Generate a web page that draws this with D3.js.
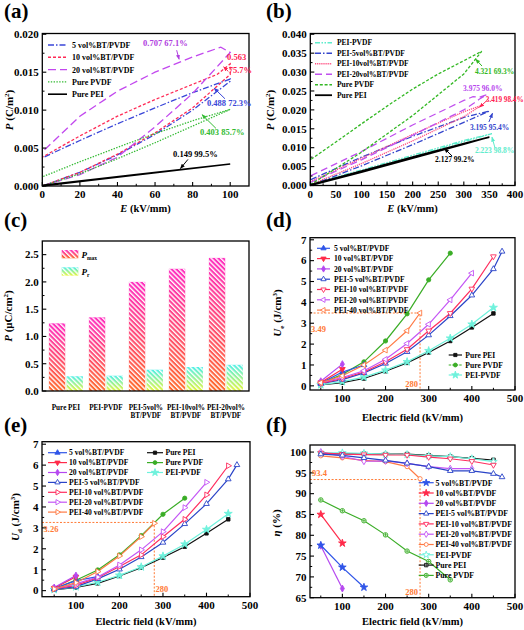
<!DOCTYPE html>
<html><head><meta charset="utf-8">
<script src="https://d3js.org/d3.v7.min.js"></script>
<style>
html,body{margin:0;padding:0;background:#fff;}
svg{display:block;}
</style></head>
<body>
<script>
// ================= DATA =================
// (a) unipolar P-E loops at 100 kV/mm (lower branch then upper branch); E kV/mm, P C/m2
const aE5  = [0,20,40,60,80,100,100,80,60,40,20,0];
const aP5  = [0,0.0018,0.0041,0.0068,0.0100,0.0138,0.0141,0.0123,0.0103,0.0082,0.0060,0.0037];
const aE10 = [0,20,40,60,80,100,100,93,80,60,40,20,0];
const aP10 = [0,0.0018,0.0042,0.0070,0.0103,0.0147,0.0161,0.0147,0.0134,0.0114,0.0092,0.0066,0.0038];
const aE20 = [0,20,40,60,80,100,95,80,60,40,20,0];
const aP20 = [0,0.0015,0.0038,0.0078,0.0122,0.0176,0.0183,0.0170,0.0150,0.0125,0.0092,0.0045];
const aEPVDF = [0,20,40,60,80,100,80,60,40,20,0];
const aPPVDF = [0,0.0016,0.0036,0.0057,0.0079,0.0101,0.0086,0.0069,0.0051,0.0032,0.0012];
const aEPEI = [0,50,100,50,0];
const aPPEI = [0,0.00145,0.0029,0.0015,0.0001];
const aNames = ["5 vol%BT/PVDF","10 vol%BT/PVDF","20 vol%BT/PVDF","Pure PVDF","Pure PEI"];
const aXTicks = [0,20,40,60,80,100];
const aYTicks = [0,0.005,0.010,0.015,0.020];

// (b) P-E loops at breakdown
const bE_PEIPVDF = [0,100,200,300,355,300,200,100,0];
const bP_PEIPVDF = [0,0.0037,0.0076,0.0116,0.0137,0.0119,0.0080,0.0041,0.0004];
const bE_PEI5 = [0,100,200,300,350,300,200,100,0];
const bP_PEI5 = [0,0.0052,0.0108,0.0167,0.0197,0.0180,0.0130,0.0075,0.0015];
const bE_PEI10 = [0,100,200,300,335,300,200,100,0];
const bP_PEI10 = [0.0002,0.0058,0.0118,0.0182,0.0212,0.0195,0.0135,0.0072,0.0010];
const bE_PEI20 = [0,100,200,300,320,330,345,330,318,300,200,100,0];
const bP_PEI20 = [0.0008,0.0068,0.0133,0.0200,0.0218,0.0228,0.0240,0.0233,0.0235,0.0225,0.0160,0.0090,0.0025];
const bE_PVDF = [0,100,200,300,335,300,250,200,150,100,50,0];
const bP_PVDF = [0.0002,0.0088,0.0185,0.0295,0.0355,0.0330,0.0295,0.0255,0.0210,0.0163,0.0115,0.0068];
const bE_PEI = [0,100,200,300,350,300,200,100,0];
const bP_PEI = [0,0.0035,0.0072,0.0109,0.0128,0.0111,0.0075,0.0038,0.0002];
const bNames = ["PEI-PVDF","PEI-5vol%BT/PVDF","PEI-10vol%BT/PVDF","PEI-20vol%BT/PVDF","Pure PVDF","Pure PEI"];
const bXTicks = [0,50,100,150,200,250,300,350,400];
const bYTicks = [0,0.005,0.010,0.015,0.020,0.025,0.030,0.035,0.040];

// (c) polarization bars
const cCats = ["Pure PEI","PEI-PVDF","PEI-5vol%\nBT/PVDF","PEI-10vol%\nBT/PVDF","PEI-20vol%\nBT/PVDF"];
const cPmax = [1.24,1.35,2.00,2.24,2.44];
const cPr   = [0.27,0.28,0.39,0.44,0.48];
const cYTicks = [0,0.5,1.0,1.5,2.0,2.5];

// field values (kV/mm)
const E2 = [50,100];
const E3 = [50,100,150];
const E7 = [50,100,150,200,250,300,350];
const E8 = [50,100,150,200,250,300,350,400];
const E9 = [50,100,150,200,250,300,350,400,450];
const E10 = [50,100,150,200,250,300,350,400,450,470];
const E40 = [50,100,150,200,250,280];

// (d) Ue (J/cm3)
const dUe5 = [0.13,0.66,1.00];
const dUe10 = [0.16,0.80];
const dUe20 = [0.22,1.04];
const dUePEI5 = [0.10,0.30,0.62,1.07,1.63,2.43,3.35,4.34,5.60,6.44];
const dUePEI10 = [0.12,0.35,0.66,1.15,1.75,2.64,3.48,4.65,6.20];
const dUePEI20 = [0.15,0.40,0.72,1.27,2.03,2.95,4.12,5.40];
const dUePEI40 = [0.15,0.48,1.00,1.71,2.64,3.49];
const dUePEI = [0.04,0.15,0.35,0.70,1.10,1.60,2.15,2.80,3.47];
const dUePVDF = [0.11,0.55,1.15,2.15,3.45,5.08,6.36];
const dUePEIPVDF = [0.05,0.20,0.42,0.75,1.15,1.68,2.28,2.95,3.75];

// (e) Ud (J/cm3)
const eUd5 = [0.10,0.48,0.67];
const eUd10 = [0.12,0.66];
const eUd20 = [0.15,0.72];
const eUdPEI5 = [0.06,0.19,0.56,1.02,1.61,2.30,3.19,4.15,5.33,6.01];
const eUdPEI10 = [0.08,0.25,0.62,1.15,1.71,2.58,3.41,4.58,5.97];
const eUdPEI20 = [0.10,0.32,0.65,1.23,1.95,2.82,3.97,5.18];
const eUdPEI40 = [0.08,0.38,0.91,1.66,2.58,3.22];
const eUdPEI = [0.04,0.15,0.35,0.70,1.10,1.58,2.10,2.74,3.41];
const eUdPVDF = [0.08,0.50,0.99,1.71,2.63,3.65,4.42];
const eUdPEIPVDF = [0.05,0.18,0.40,0.73,1.13,1.65,2.22,2.92,3.68];

// (f) efficiency (%)
const fEta5 = [77.6,72.3,67.5];
const fEta10 = [85.0,78.1];
const fEta20 = [77.5,67.2];
const fEtaPEI5 = [99.5,99.2,98.6,98.0,97.3,96.5,95.5,95.5,94.8,94.0];
const fEtaPEI10 = [99.8,99.5,99.4,99.3,99.3,98.8,98.4,97.8,96.9];
const fEtaPEI20 = [100.0,99.0,97.8,97.9,97.3,96.5,96.0,96.0];
const fEtaPEI40 = [99.1,98.6,98.0,97.7,96.5,93.6];
const fEtaPEIPVDF = [99.8,99.8,99.7,99.5,99.4,99.1,98.9,98.4,97.7];
const fEtaPEI = [99.6,99.6,99.6,99.5,99.5,99.2,98.9,98.5,98.1];
const fEtaPVDF = [88.5,85.9,83.5,80.1,76.2,73.7,69.3];

const fieldTicks = [100,200,300,400,500];
const ueTicks = [0,1,2,3,4,5,6,7];
const etaTicks = [65,70,75,80,85,90,95,100];

// ================= DRAWING =================
const FF = '"Liberation Serif","Times New Roman",Times,serif';
const svg = d3.select("body").append("svg").attr("width",524).attr("height",630)
  .style("font-family",FF).style("font-weight","bold");
const defs = svg.append("defs");

const COL = {v5:"#2f55e8", v10:"#ff2a4a", v20:"#b548f0", p5:"#2a44c8", p10:"#ff2d5e",
  p20:"#c455f5", p40:"#ff7a45", pei:"#111111", pvdf:"#3aad26", peipvdf:"#6ff2dc"};

function arrowDef(id,color){
  defs.append("marker").attr("id",id).attr("viewBox","0 0 10 10").attr("refX",9).attr("refY",5)
    .attr("markerWidth",5).attr("markerHeight",5).attr("orient","auto")
    .append("path").attr("d","M0,1L10,5L0,9z").attr("fill",color);
}

function axes(g,x,y,o){
  const [xl,xr]=x.range(), [yb,yt]=y.range();
  const fs=o.fs||11;
  (o.xMinor||[]).forEach(v=>g.append("line").attr("x1",x(v)).attr("x2",x(v)).attr("y1",yb).attr("y2",yb-2.2).attr("stroke","#000").attr("stroke-width",1));
  (o.yMinor||[]).forEach(v=>g.append("line").attr("y1",y(v)).attr("y2",y(v)).attr("x1",xl).attr("x2",xl+2.2).attr("stroke","#000").attr("stroke-width",1));
  (o.xTicks||[]).forEach(v=>{
    g.append("line").attr("x1",x(v)).attr("x2",x(v)).attr("y1",yb).attr("y2",yb-4).attr("stroke","#000").attr("stroke-width",1.1);
    g.append("text").attr("x",x(v)).attr("y",yb+12).attr("text-anchor","middle").attr("font-size",fs).text(o.xFmt?o.xFmt(v):v);
  });
  (o.yTicks||[]).forEach(v=>{
    g.append("line").attr("y1",y(v)).attr("y2",y(v)).attr("x1",xl).attr("x2",xl+4).attr("stroke","#000").attr("stroke-width",1.1);
    g.append("text").attr("x",xl-3.5).attr("y",y(v)+3.8).attr("text-anchor","end").attr("font-size",fs).text(o.yFmt?o.yFmt(v):v);
  });
  g.append("rect").attr("x",xl).attr("y",yt).attr("width",xr-xl).attr("height",yb-yt)
    .attr("fill","none").attr("stroke","#000").attr("stroke-width",1.3);
}

function panelLabel(x,y,t){
  svg.append("text").attr("x",x).attr("y",y).attr("font-size",21).text(t);
}

function yTitle(cx,cy,parts){
  const t=svg.append("text").attr("transform",`translate(${cx},${cy}) rotate(-90)`).attr("text-anchor","middle").attr("font-size",11);
  parts.forEach(p=>{
    const s=t.append("tspan").text(p.t);
    if(p.i) s.attr("font-style","italic");
    if(p.sup){s.attr("font-size",7).attr("dy",-4);}
    if(p.sub){s.attr("font-size",7).attr("dy",2.5);}
    if(p.back) s.attr("dy",p.back);
  });
}
function xTitle(cx,y,parts){
  const t=svg.append("text").attr("x",cx).attr("y",y).attr("text-anchor","middle").attr("font-size",10.5);
  parts.forEach(p=>{const s=t.append("tspan").text(p.t); if(p.i) s.attr("font-style","italic");});
}

const loopLine=(x,y)=>d3.line().x(d=>x(d[0])).y(d=>y(d[1]));

function note(g,x,y,E,P,text,color,fs,arrow){
  g.append("text").attr("x",x(E)).attr("y",y(P)).attr("font-size",fs).attr("fill",color).text(text);
  if(arrow){
    g.append("line").attr("x1",x(arrow[0])).attr("y1",y(arrow[1])).attr("x2",x(arrow[2])).attr("y2",y(arrow[3]))
      .attr("stroke",color).attr("stroke-width",1).attr("marker-end",`url(#${arrow[4]})`);
  }
}

// ---------- (a) ----------
{
  const g=svg.append("g");
  const x=d3.scaleLinear().domain([0,110]).range([42.3,249]);
  const y=d3.scaleLinear().domain([0,0.0201]).range([186,33.5]);
  const series=[
    {E:aE5,P:aP5,c:"#3a46d8",dash:"6,2,1.5,2"},
    {E:aE10,P:aP10,c:"#ff2a55",dash:"3,2"},
    {E:aE20,P:aP20,c:"#c248ee",dash:"8,4"},
    {E:aEPVDF,P:aPPVDF,c:"#35bb35",dash:"1.4,1.4"},
    {E:aEPEI,P:aPPEI,c:"#000",dash:null}
  ];
  series.forEach(s=>g.append("path").attr("d",loopLine(x,y)(d3.zip(s.E,s.P))).attr("fill","none")
     .attr("stroke",s.c).attr("stroke-width",s.dash?1.3:1.5).attr("stroke-dasharray",s.dash));
  axes(g,x,y,{xTicks:aXTicks,xMinor:[10,30,50,70,90],yTicks:aYTicks,yMinor:[0.0025,0.0075,0.0125,0.0175],yFmt:d3.format(".3f")});
  series.forEach((s,i)=>{
    const yy=45+12.3*i;
    g.append("line").attr("x1",48).attr("x2",67).attr("y1",yy).attr("y2",yy).attr("stroke",s.c).attr("stroke-width",s.dash?1.4:1.6).attr("stroke-dasharray",s.dash);
    g.append("text").attr("x",72).attr("y",yy+2.9).attr("font-size",8).text(aNames[i]);
  });
  ["aP","aR","aB","aG","aK"].forEach((id,i)=>arrowDef(id,["#b040e0","#ff2050","#3a46d8","#33bb33","#000"][i]));
  note(g,x,y,53.6,0.0185,"0.707 67.1%","#b040e0",8.5,[71.5,0.0179,72.8,0.0167,"aP"]);
  note(g,x,y,98.3,0.0166,"0.563","#ff2050",8.5,null);
  note(g,x,y,99.2,0.0149,"75.7%","#ff2050",8.5,[99.0,0.0151,96.5,0.0157,"aR"]);
  note(g,x,y,87.6,0.01054,"0.488 72.3%","#3a46d8",8.5,[97.2,0.0115,91.4,0.0129,"aB"]);
  note(g,x,y,83.9,0.00672,"0.403 85.7%","#33bb33",8.5,[92.4,0.0076,85.0,0.0094,"aG"]);
  note(g,x,y,69.6,0.00382,"0.149 99.5%","#000",8.5,[77.5,0.0035,73.5,0.0023,"aK"]);
  yTitle(13,110,[{t:"P",i:1},{t:" (C/m"},{t:"2",sup:1},{t:")",back:4}]);
  xTitle(145.5,212,[{t:"E",i:1},{t:" (kV/mm)"}]);
}

// ---------- (b) ----------
{
  const g=svg.append("g");
  const x=d3.scaleLinear().domain([0,400]).range([310.3,515]);
  const y=d3.scaleLinear().domain([0,0.0402]).range([185.5,33.5]);
  const series=[
    {E:bE_PEIPVDF,P:bP_PEIPVDF,c:"#5eeccc",dash:"5,1.5,1.5,1.5,1.5,1.5"},
    {E:bE_PEI5,P:bP_PEI5,c:"#3344cc",dash:"6,2,1.5,2"},
    {E:bE_PEI10,P:bP_PEI10,c:"#ff4d80",dash:"1.2,0.9"},
    {E:bE_PEI20,P:bP_PEI20,c:"#c050ee",dash:"7,4"},
    {E:bE_PVDF,P:bP_PVDF,c:"#33b824",dash:"3,1.8"},
    {E:bE_PEI,P:bP_PEI,c:"#000",dash:null}
  ];
  series.forEach(s=>g.append("path").attr("d",loopLine(x,y)(d3.zip(s.E,s.P))).attr("fill","none")
     .attr("stroke",s.c).attr("stroke-width",s.dash?1.3:1.6).attr("stroke-dasharray",s.dash));
  axes(g,x,y,{xTicks:bXTicks,xMinor:[25,75,125,175,225,275,325,375],yTicks:bYTicks,yMinor:[0.0025,0.0075,0.0125,0.0175,0.0225,0.0275,0.0325,0.0375],yFmt:d3.format(".3f")});
  series.forEach((s,i)=>{
    const yy=42.7+10.5*i;
    g.append("line").attr("x1",315).attr("x2",332).attr("y1",yy).attr("y2",yy).attr("stroke",s.c).attr("stroke-width",s.dash?1.4:1.8).attr("stroke-dasharray",s.dash);
    g.append("text").attr("x",337).attr("y",yy+2.7).attr("font-size",7.5).text(bNames[i]);
  });
  ["bG","bR","bB","bC","bK"].forEach((id,i)=>arrowDef(id,["#33b824","#ff2050","#3344cc","#5eeccc","#000"][i]));
  note(g,x,y,321.8,0.0296,"4.321 69.3%","#33b824",7.5,[335.5,0.0316,323,0.0334,"bG"]);
  note(g,x,y,298.4,0.0249,"3.975 96.0%","#b848ee",7.5,null);
  note(g,x,y,343,0.0222,"3.419 98.4%","#ff2050",7.2,[346,0.0226,331,0.0207,"bR"]);
  note(g,x,y,312,0.0147,"3.195 95.4%","#3344cc",7.5,[349,0.0168,356,0.0191,"bB"]);
  note(g,x,y,321.8,0.0086,"2.223 98.8%","#5eeccc",7.5,[361,0.0099,355,0.0128,"bC"]);
  note(g,x,y,243.7,0.0062,"2.127 99.2%","#000",7.5,[277,0.0078,262,0.0098,"bK"]);
  yTitle(274,110,[{t:"P",i:1},{t:" (C/m"},{t:"2",sup:1},{t:")",back:4}]);
  xTitle(412.5,212,[{t:"E",i:1},{t:" (kV/mm)"}]);
}

// ---------- (c) ----------
{
  const g=svg.append("g");
  const x=d3.scaleBand().domain(cCats).range([45.9,245.9]).paddingInner(0.15).paddingOuter(0.075);
  const xs=d3.scaleBand().domain(["max","r"]).range([0,x.bandwidth()]).paddingInner(0.08);
  const y=d3.scaleLinear().domain([0,2.75]).range([391,241]);
  const gm=defs.append("linearGradient").attr("id","gMax").attr("x1",0).attr("y1",0).attr("x2",0).attr("y2",1);
  gm.append("stop").attr("offset","0%").attr("stop-color","#ff2fc0");
  gm.append("stop").attr("offset","100%").attr("stop-color","#ff6a2a");
  const gr=defs.append("linearGradient").attr("id","gR").attr("x1",0).attr("y1",0).attr("x2",0).attr("y2",1);
  gr.append("stop").attr("offset","0%").attr("stop-color","#4ff0e8");
  gr.append("stop").attr("offset","100%").attr("stop-color","#e6f53a");
  const pat=defs.append("pattern").attr("id","hatch").attr("patternUnits","userSpaceOnUse").attr("width",3.4).attr("height",3.4).attr("patternTransform","rotate(-45)");
  pat.append("rect").attr("x",0).attr("y",0).attr("width",1.35).attr("height",3.4).attr("fill","#fff");
  const bars=[];
  cCats.forEach((c,i)=>{bars.push({c,k:"max",v:cPmax[i]});bars.push({c,k:"r",v:cPr[i]});});
  bars.forEach(b=>{
    const bx=x(b.c)+xs(b.k), w=xs.bandwidth(), yt=y(b.v), h=y(0)-y(b.v);
    g.append("rect").attr("x",bx).attr("y",yt).attr("width",w).attr("height",h).attr("fill",b.k==="max"?"url(#gMax)":"url(#gR)");
    g.append("rect").attr("x",bx).attr("y",yt).attr("width",w).attr("height",h).attr("fill","url(#hatch)");
  });
  axes(g,{range:()=>[42.3,249]},y,{yTicks:cYTicks,yMinor:[0.25,0.75,1.25,1.75,2.25],yFmt:d3.format(".1f")});
  cCats.forEach(c=>{
    const lines=c.split("\n");
    lines.forEach((l,j)=>g.append("text").attr("x",x(c)+x.bandwidth()/2).attr("y",409.5+8.5*j).attr("text-anchor","middle").attr("font-size",7.2).text(l));
  });
  [["gMax","max",250],["gR","r",267.3]].forEach(([gid,sub,yy])=>{
    g.append("rect").attr("x",61.7).attr("y",yy).attr("width",16.6).attr("height",8.3).attr("fill",`url(#${gid})`);
    g.append("rect").attr("x",61.7).attr("y",yy).attr("width",16.6).attr("height",8.3).attr("fill","url(#hatch)");
    const t=g.append("text").attr("x",81.5).attr("y",yy+7.5).attr("font-size",9);
    t.append("tspan").attr("font-style","italic").text("P");
    t.append("tspan").attr("font-size",5.5).attr("dy",2).text(sub);
  });
  yTitle(12,316,[{t:"P",i:1},{t:" (μC/cm"},{t:"2",sup:1},{t:")",back:4}]);
}

// ---------- markers & series helpers ----------
const SYM={triangle:d3.symbolTriangle,square:d3.symbolSquare,circle:d3.symbolCircle,diamond:d3.symbolDiamond,star:d3.symbolStar};
function marker(g,cx,cy,s,k=1){
  g.append("path").attr("d",d3.symbol(SYM[s.sym],(s.size||14)*k)())
    .attr("transform",`translate(${cx},${cy}) rotate(${s.rot||0})`)
    .attr("fill",s.fill?s.color:"#fff").attr("stroke",s.color).attr("stroke-width",0.9);
  if(s.plus) g.append("path").attr("d","M-1.9,0H1.9M0,-1.9V1.9").attr("transform",`translate(${cx},${cy})`).attr("stroke",s.color).attr("stroke-width",0.8);
}
function drawSeries(g,x,y,list){
  list.forEach(s=>g.append("path").attr("d",loopLine(x,y)(d3.zip(s.E,s.V))).attr("fill","none")
     .attr("stroke",s.color).attr("stroke-width",1.2).attr("stroke-dasharray",s.plotDash||null));
  list.forEach(s=>d3.zip(s.E,s.V).forEach(d=>marker(g,x(d[0]),y(d[1]),s)));
}
function legendRows(g,list,x0,x1,tx,y0,dy,fs){
  list.forEach((s,i)=>{
    const yy=y0+dy*i;
    g.append("line").attr("x1",x0).attr("x2",x1).attr("y1",yy).attr("y2",yy).attr("stroke",s.color).attr("stroke-width",1.2).attr("stroke-dasharray",s.dash||null);
    marker(g,(x0+x1)/2,yy,s,0.85);
    g.append("text").attr("x",tx).attr("y",yy+fs*0.36).attr("font-size",fs).text(s.name);
  });
}
function guide(g,x,y,E,V,x0,yb){
  g.append("path").attr("d",`M${x0},${y(V)}H${x(E)}V${yb}`).attr("fill","none").attr("stroke","#ff7a35").attr("stroke-width",1).attr("stroke-dasharray","2,1.6");
}

// ---------- (d) ----------
{
  const g=svg.append("g");
  const x=d3.scaleLinear().domain([25,500]).range([310,515]);
  const y=d3.scaleLinear().domain([-0.2,7.1]).range([390,237.7]);
  const L=[
    {name:"5 vol%BT/PVDF",E:E3,V:dUe5,color:COL.v5,sym:"triangle",fill:1},
    {name:"10 vol%BT/PVDF",E:E2,V:dUe10,color:COL.v10,sym:"triangle",rot:180,fill:1},
    {name:"20 vol%BT/PVDF",E:E2,V:dUe20,color:COL.v20,sym:"diamond",fill:1},
    {name:"PEI-5 vol%BT/PVDF",E:E10,V:dUePEI5,color:COL.p5,sym:"triangle"},
    {name:"PEI-10 vol%BT/PVDF",E:E9,V:dUePEI10,color:COL.p10,sym:"triangle",rot:180},
    {name:"PEI-20 vol%BT/PVDF",E:E8,V:dUePEI20,color:COL.p20,sym:"triangle",rot:-90},
    {name:"PEI-40 vol%BT/PVDF",E:E40,V:dUePEI40,color:COL.p40,sym:"triangle",rot:-90}
  ];
  const R=[
    {name:"Pure PEI",E:E9,V:dUePEI,color:COL.pei,sym:"square",fill:1,size:12},
    {name:"Pure PVDF",E:E7,V:dUePVDF,color:COL.pvdf,sym:"circle",fill:1,dash:"2.5,1"},
    {name:"PEI-PVDF",E:E9,V:dUePEIPVDF,color:COL.peipvdf,sym:"star",fill:1,size:20}
  ];
  guide(g,x,y,280,3.49,310,390);
  drawSeries(g,x,y,R.concat(L));
  axes(g,x,y,{xTicks:fieldTicks,xMinor:[50,150,250,350,450],yTicks:ueTicks,yMinor:[0.5,1.5,2.5,3.5,4.5,5.5,6.5]});
  legendRows(g,L,317,330,334,248.3,10.3,7.6);
  legendRows(g,R,448.7,462,465.3,355,10,7.6);
  g.append("text").attr("x",311).attr("y",331.5).attr("font-size",8.5).attr("fill","#ff7a35").text("3.49");
  g.append("text").attr("x",418).attr("y",386.5).attr("text-anchor","end").attr("font-size",8.5).attr("fill","#ff7a35").text("280");
  yTitle(281,313,[{t:"U",i:1},{t:"e",sub:1},{t:" (J/cm",back:-2.5},{t:"3",sup:1},{t:")",back:4}]);
  xTitle(412.5,421,[{t:"Electric field (kV/mm)"}]);
}

// ---------- (e) ----------
{
  const g=svg.append("g");
  const x=d3.scaleLinear().domain([22,500]).range([42,250]);
  const y=d3.scaleLinear().domain([-0.29,7.12]).range([596.7,441.7]);
  const L=[
    {name:"5 vol%BT/PVDF",E:E3,V:eUd5,color:COL.v5,sym:"triangle",fill:1},
    {name:"10 vol%BT/PVDF",E:E2,V:eUd10,color:COL.v10,sym:"triangle",rot:180,fill:1},
    {name:"20 vol%BT/PVDF",E:E2,V:eUd20,color:COL.v20,sym:"diamond",fill:1},
    {name:"PEI-5 vol%BT/PVDF",E:E10,V:eUdPEI5,color:COL.p5,sym:"triangle"},
    {name:"PEI-10 vol%BT/PVDF",E:E9,V:eUdPEI10,color:COL.p10,sym:"triangle",rot:90},
    {name:"PEI-20 vol%BT/PVDF",E:E8,V:eUdPEI20,color:COL.p20,sym:"triangle",rot:90},
    {name:"PEI-40 vol%BT/PVDF",E:E40,V:eUdPEI40,color:COL.p40,sym:"triangle",rot:90}
  ];
  const R=[
    {name:"Pure PEI",E:E9,V:eUdPEI,color:COL.pei,sym:"square",fill:1,size:12},
    {name:"Pure PVDF",E:E7,V:eUdPVDF,color:COL.pvdf,sym:"circle",fill:1},
    {name:"PEI-PVDF",E:E9,V:eUdPEIPVDF,color:COL.peipvdf,sym:"star",fill:1,size:20}
  ];
  guide(g,x,y,280,3.26,42,596.7);
  drawSeries(g,x,y,R.concat(L));
  axes(g,x,y,{xTicks:fieldTicks,xMinor:[50,150,250,350,450],yTicks:ueTicks,yMinor:[0.5,1.5,2.5,3.5,4.5,5.5,6.5]});
  legendRows(g,L,48,67,69,452.7,9.9,7.6);
  legendRows(g,R,147,163,165.5,452.7,9.9,7.6);
  g.append("text").attr("x",43.5).attr("y",531.5).attr("font-size",8.5).attr("fill","#ff7a35").text("3.26");
  g.append("text").attr("x",155.5).attr("y",591.5).attr("font-size",8.5).attr("fill","#ff7a35").text("280");
  yTitle(19,517,[{t:"U",i:1},{t:"d",sub:1},{t:" (J/cm",back:-2.5},{t:"3",sup:1},{t:")",back:4}]);
  xTitle(146,624.5,[{t:"Electric field (kV/mm)"}]);
}

// ---------- (f) ----------
{
  const g=svg.append("g");
  const x=d3.scaleLinear().domain([25,500]).range([310,515]);
  const y=d3.scaleLinear().domain([65,101.7]).range([597.7,445]);
  const L=[
    {name:"5 vol%BT/PVDF",E:E3,V:fEta5,color:COL.v5,sym:"star",fill:1,size:18},
    {name:"10 vol%BT/PVDF",E:E2,V:fEta10,color:COL.v10,sym:"star",fill:1,size:18},
    {name:"20 vol%BT/PVDF",E:E2,V:fEta20,color:COL.v20,sym:"diamond",fill:1},
    {name:"PEI-5 vol%BT/PVDF",E:E10,V:fEtaPEI5,color:COL.p5,sym:"triangle"},
    {name:"PEI-10 vol%BT/PVDF",E:E9,V:fEtaPEI10,color:COL.p10,sym:"triangle",rot:180},
    {name:"PEI-20 vol%BT/PVDF",E:E8,V:fEtaPEI20,color:COL.p20,sym:"diamond"},
    {name:"PEI-40 vol%BT/PVDF",E:E40,V:fEtaPEI40,color:COL.p40,sym:"circle"},
    {name:"PEI-PVDF",E:E9,V:fEtaPEIPVDF,color:COL.peipvdf,sym:"star",size:18},
    {name:"Pure PEI",E:E9,V:fEtaPEI,color:COL.pei,sym:"square",plus:1,size:14},
    {name:"Pure PVDF",E:E7,V:fEtaPVDF,color:COL.pvdf,sym:"circle",plus:1,size:16}
  ];
  guide(g,x,y,280,93.4,310,597.7);
  drawSeries(g,x,y,L.slice().reverse());
  axes(g,x,y,{xTicks:fieldTicks,xMinor:[50,150,250,350,450],yTicks:etaTicks,yMinor:[67.5,72.5,77.5,82.5,87.5,92.5,97.5]});
  legendRows(g,L,418.7,433.7,435.5,482.7,10.3,7.8);
  g.append("text").attr("x",312).attr("y",475.5).attr("font-size",8.5).attr("fill","#ff7a35").text("93.4");
  g.append("text").attr("x",418).attr("y",595).attr("text-anchor","end").attr("font-size",8.5).attr("fill","#ff7a35").text("280");
  yTitle(280,523,[{t:"η",i:1},{t:" (%)"}]);
  xTitle(412.5,624.5,[{t:"Electric field (kV/mm)"}]);
}

panelLabel(4,18,"(a)");
panelLabel(266,18,"(b)");
panelLabel(4,226.5,"(c)");
panelLabel(266,227,"(d)");
panelLabel(4,432,"(e)");
panelLabel(266,432,"(f)");
</script>
</body></html>
